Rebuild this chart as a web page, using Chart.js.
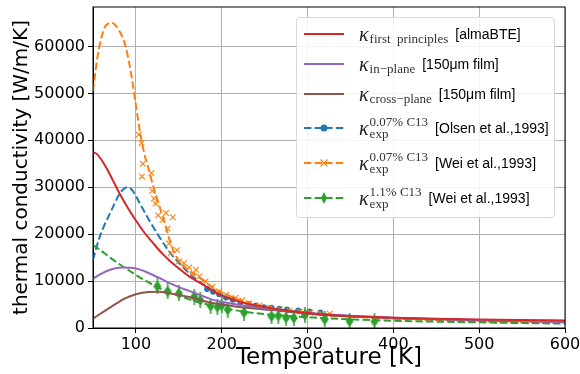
<!DOCTYPE html>
<html>
<head>
<meta charset="utf-8">
<script src="https://cdn.jsdelivr.net/npm/chart.js@4/dist/chart.umd.min.js"></script>
<style>
  body { margin: 0; background: #fff; }
  #wrap { position: relative; width: 580px; height: 374px; }
  #legend {
    position: absolute; left: 296px; top: 17px; width: 259px; height: 201px;
    box-sizing: border-box; border: 1px solid #d8d8d8; border-radius: 4px;
    background: rgba(255,255,255,0.85); font-family: 'Liberation Sans', sans-serif;
  }
  .row { position: absolute; left: 6px; height: 30px; display: flex; align-items: center; white-space: nowrap; }
  .row svg { width: 42px; height: 14px; margin-right: 14px; }
  .k { font-family: 'Liberation Serif', serif; font-style: italic; font-size: 20px; color: #222; }
  .lo { font-family: 'Liberation Serif', serif; font-size: 13px; color: #333; position: relative; top: 5px; margin-left: 1px; }
  .stack { display: inline-flex; flex-direction: column; font-family: 'Liberation Serif', serif; font-size: 13px; color: #333; line-height: 12px; margin-left: 1px; }
  .txt { font-size: 14px; color: #000; margin-left: 7px; }
</style>
</head>
<body>
<div id="wrap">
  <canvas id="chart" width="580" height="374"></canvas>
  <div id="legend">
    <div class="row" style="top:1px">
      <svg><line x1="1" y1="7" x2="41" y2="7" stroke="#d62728" stroke-width="2"/></svg>
      <span class="k">κ</span><span class="lo">first&nbsp; principles</span><span class="txt">[almaBTE]</span>
    </div>
    <div class="row" style="top:31px">
      <svg><line x1="1" y1="7" x2="41" y2="7" stroke="#9467bd" stroke-width="2"/></svg>
      <span class="k">κ</span><span class="lo">in−plane</span><span class="txt">[150μm film]</span>
    </div>
    <div class="row" style="top:61px">
      <svg><line x1="1" y1="7" x2="41" y2="7" stroke="#8c564b" stroke-width="2"/></svg>
      <span class="k">κ</span><span class="lo">cross−plane</span><span class="txt">[150μm film]</span>
    </div>
    <div class="row" style="top:95px">
      <svg><line x1="1" y1="7" x2="41" y2="7" stroke="#1f77b4" stroke-width="2" stroke-dasharray="7.4,3.2"/><circle cx="21" cy="7" r="3.5" fill="#1f77b4"/></svg>
      <span class="k">κ</span><span class="stack"><span>0.07% C13</span><span>exp</span></span><span class="txt">[Olsen et al.,1993]</span>
    </div>
    <div class="row" style="top:130px">
      <svg><line x1="1" y1="7" x2="41" y2="7" stroke="#ff7f0e" stroke-width="2" stroke-dasharray="7.4,3.2"/><path d="M17.5 3.5 L24.5 10.5 M24.5 3.5 L17.5 10.5" stroke="#ff7f0e" stroke-width="1.2"/></svg>
      <span class="k">κ</span><span class="stack"><span>0.07% C13</span><span>exp</span></span><span class="txt">[Wei et al.,1993]</span>
    </div>
    <div class="row" style="top:165px">
      <svg><line x1="1" y1="7" x2="41" y2="7" stroke="#2ca02c" stroke-width="2" stroke-dasharray="7.4,3.2"/><path d="M21 1 L24 7 L21 13 L18 7 Z" fill="#2ca02c"/></svg>
      <span class="k">κ</span><span class="stack"><span>1.1% C13</span><span>exp</span></span><span class="txt">[Wei et al.,1993]</span>
    </div>
  </div>
</div>
<script>
// ticks
const xTicks = [100, 200, 300, 400, 500, 600];
const yTicks = [0, 10000, 20000, 30000, 40000, 50000, 60000];

// first principles (almaBTE)
const fpT = [50, 55, 60, 65, 70, 80, 90, 100, 110, 120, 130, 140, 150, 162, 175, 190, 200, 225, 250, 275, 300, 350, 400, 450, 500, 550, 600];
const fpK = [37500, 37000, 35800, 34300, 32600, 29000, 25800, 22900, 20300, 18100, 16000, 14200, 12700, 11000, 9600, 7900, 6900, 5400, 4450, 3750, 3200, 2500, 2200, 1950, 1800, 1700, 1620];

// in-plane film
const ipT = [50, 60, 70, 84, 100, 110, 120, 130, 140, 150, 162, 175, 190, 200, 225, 250, 275, 300, 350, 400, 450, 500, 550, 600];
const ipK = [10500, 11600, 12400, 12900, 12700, 12100, 11300, 10400, 9500, 8700, 7900, 7000, 6000, 5600, 4800, 4200, 3700, 3200, 2600, 2200, 1900, 1700, 1500, 1300];

// cross-plane film
const cpT = [50, 60, 72, 88, 100, 115, 127, 139, 150, 162, 185, 216, 250, 267, 300, 350, 400, 450, 500, 550, 600];
const cpK = [2000, 3200, 4600, 6350, 7200, 7650, 7700, 7400, 7000, 6600, 5500, 4600, 3950, 3700, 3050, 2500, 2100, 1850, 1650, 1450, 1300];

// Olsen 0.07% C13 (fit + data)
const olFitT = [50, 57, 63, 70, 80, 85, 90, 95, 100, 105, 115, 127, 140, 154, 170, 185, 200, 225, 250, 275, 300, 350, 400, 450, 500, 550, 600];
const olFitK = [14500, 19000, 21800, 24500, 28300, 29500, 30000, 29500, 28100, 26400, 23100, 19500, 16000, 13100, 10400, 8500, 7100, 5500, 4400, 3650, 3150, 2550, 2100, 1800, 1550, 1400, 1250];
const olT = [183, 190, 197, 205, 213, 222, 231, 240, 249, 258, 267, 276, 289, 302, 315];
const olK = [8300, 7700, 7200, 6500, 6000, 5500, 5100, 4800, 4400, 4300, 4100, 3950, 3750, 3500, 3300];

// Wei 0.07% C13 (fit + data)
const w07FitT = [50, 55, 60, 65, 72, 80, 88, 95, 100, 105, 110, 115, 120, 127, 135, 140, 145, 150, 160, 170, 180, 190, 200, 225, 250, 275, 300, 350, 400, 450, 500, 550, 600];
const w07FitK = [50500, 57500, 62000, 64500, 65000, 63500, 60000, 53500, 47500, 41500, 37000, 33800, 30300, 26200, 21500, 18300, 16000, 14300, 12500, 11300, 9900, 8600, 7600, 5700, 4500, 3700, 3100, 2450, 2000, 1700, 1450, 1250, 1100];
const w07T = [103.5, 106.6, 108, 107, 118, 119, 121, 123, 126, 131, 135, 137, 143, 138.5, 140.5, 148, 150, 156, 162, 166, 170, 174, 181, 189, 197, 205, 216, 224, 232, 244, 256, 268, 279, 291, 303, 315, 326];
const w07K = [41200, 39400, 35000, 32300, 33000, 29200, 27600, 26500, 24000, 23000, 24500, 21200, 23600, 18000, 15900, 16600, 14200, 13800, 12900, 11300, 12400, 11000, 9900, 8800, 7800, 7100, 6400, 5900, 5300, 4800, 4300, 4000, 3750, 3500, 3300, 3150, 3050];

// Wei 1.1% C13 (fit + data)
const w11FitT = [50, 60, 70, 80, 90, 100, 110, 120, 130, 140, 150, 162, 175, 190, 200, 225, 250, 275, 300, 350, 400, 450, 500, 550, 600];
const w11FitK = [17700, 16400, 15000, 13700, 12500, 11300, 10200, 9200, 8300, 7500, 6900, 6100, 5400, 4700, 4300, 3500, 2950, 2600, 2300, 1850, 1550, 1350, 1200, 1050, 950];
const w11T = [125, 137, 150, 168, 175, 187, 195, 200, 207, 226, 258, 266, 275, 284, 297, 320, 349, 378];
const w11K = [8900, 7800, 7400, 6700, 5900, 4700, 4500, 4800, 3900, 3300, 2500, 2600, 2200, 2150, 2800, 1850, 1450, 1400];

const pts = (xs, ys) => xs.map((x, i) => ({ x: x, y: ys[i] }));

// thin diamond with small error bar for the 1.1% data
const diamond = document.createElement('canvas');
diamond.width = 10; diamond.height = 16;
(function() {
    const c = diamond.getContext('2d');
    c.strokeStyle = '#2ca02c'; c.fillStyle = '#2ca02c'; c.lineWidth = 1.5;
    c.beginPath(); c.moveTo(5, 0); c.lineTo(5, 16); c.stroke();
    c.beginPath(); c.moveTo(5, 2); c.lineTo(9, 8); c.lineTo(5, 14); c.lineTo(1, 8); c.closePath(); c.fill();
})();

const dashed = [7.4, 3.2];
const smooth = { showLine: true, borderWidth: 2, pointRadius: 0, cubicInterpolationMode: 'monotone' };

const framePlugin = {
    id: 'frame',
    afterDatasetsDraw(chart) {
        const a = chart.chartArea, c = chart.ctx;
        c.save();
        c.strokeStyle = '#000'; c.lineWidth = 1;
        c.strokeRect(a.left, a.top, a.right - a.left, a.bottom - a.top);
        c.restore();
    }
};

Chart.defaults.font.family = "'DejaVu Sans', sans-serif";
Chart.defaults.color = '#000';

new Chart(document.getElementById('chart'), {
    type: 'scatter',
    data: {
        datasets: [
            { ...smooth, label: 'first principles', data: pts(fpT, fpK), borderColor: '#d62728', order: 0 },
            { ...smooth, label: 'in-plane', data: pts(ipT, ipK), borderColor: '#9467bd', order: 1 },
            { ...smooth, label: 'cross-plane', data: pts(cpT, cpK), borderColor: '#8c564b', order: 2 },
            { label: 'Wei 1.1% data', data: pts(w11T, w11K), pointStyle: diamond, pointRadius: 5, order: 3 },
            { ...smooth, label: 'Wei 1.1% fit', data: pts(w11FitT, w11FitK), borderColor: '#2ca02c', borderDash: dashed, order: 4 },
            { label: 'Wei 0.07% data', data: pts(w07T, w07K), pointStyle: 'crossRot', pointRadius: 4, borderColor: '#ff7f0e', borderWidth: 1.1, order: 5 },
            { ...smooth, label: 'Wei 0.07% fit', data: pts(w07FitT, w07FitK), borderColor: '#ff7f0e', borderDash: dashed, order: 6 },
            { label: 'Olsen data', data: pts(olT, olK), pointStyle: 'circle', pointRadius: 3, backgroundColor: '#1f77b4', borderColor: '#1f77b4', borderWidth: 0, order: 7 },
            { ...smooth, label: 'Olsen fit', data: pts(olFitT, olFitK), borderColor: '#1f77b4', borderDash: dashed, order: 8 }
        ]
    },
    options: {
        responsive: false,
        animation: false,
        layout: { padding: { top: 7, right: 15, left: 0, bottom: 0 } },
        plugins: { legend: { display: false }, tooltip: { enabled: false } },
        scales: {
            x: {
                type: 'linear', min: 50, max: 600,
                afterBuildTicks: s => { s.ticks = xTicks.map(v => ({ value: v })); },
                afterFit: s => { s.height = 46; s.paddingLeft = 0; s.paddingRight = 0; },
                ticks: { font: { size: 16 }, padding: 2, maxRotation: 0, callback: v => String(v) },
                grid: { color: '#b0b0b0', lineWidth: 1, tickLength: 5, tickColor: '#000' },
                border: { color: '#000', width: 1 },
                title: { display: true, text: 'Temperature [K]', font: { size: 23 }, padding: { top: 0, bottom: 2 } }
            },
            y: {
                type: 'linear', min: 0, max: 68400,
                afterBuildTicks: s => { s.ticks = yTicks.map(v => ({ value: v })); },
                afterFit: s => { s.width = 93; s.paddingTop = 0; s.paddingBottom = 0; },
                ticks: { font: { size: 16 }, padding: 3, callback: v => String(v) },
                grid: { color: '#b0b0b0', lineWidth: 1, tickLength: 5, tickColor: '#000' },
                border: { color: '#000', width: 1 },
                title: { display: true, text: 'thermal conductivity [W/m/K]', font: { size: 20 }, padding: { top: 10, bottom: 0 } }
            }
        }
    },
    plugins: [framePlugin]
});
</script>
</body>
</html>
